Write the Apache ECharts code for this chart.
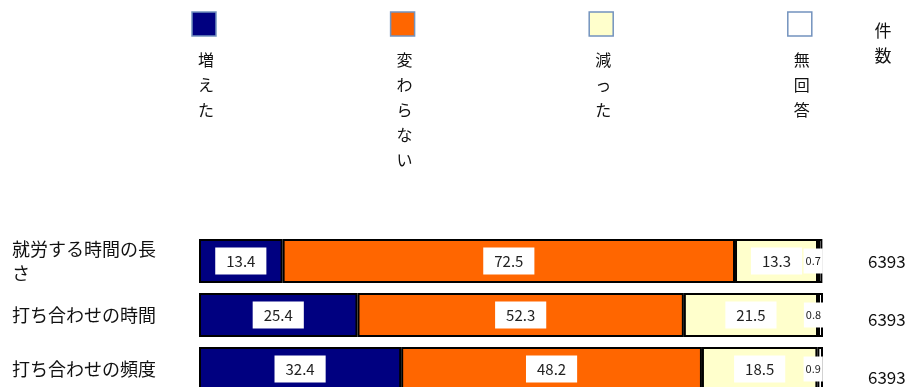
<!DOCTYPE html>
<html>
<head>
<meta charset="utf-8">
<script src="https://cdn.jsdelivr.net/npm/echarts@6/dist/echarts.min.js"></script>
<style>
  html, body { margin: 0; padding: 0; background: #fff; }
  #chart { width: 906px; height: 387px; }
</style>
</head>
<body>
<div id="chart"></div>
<script>
// Survey items (rows, top to bottom)
const categories = ['就労する時間の長さ', '打ち合わせの時間', '打ち合わせの頻度'];
// Answer groups, in stacking order
const seriesNames = ['増えた', '変わらない', '減った', '無回答'];
const seriesColors = ['#000080', '#FF6600', '#FFFFCC', '#FFFFFF'];
// Shares in percent per row
const increased = [13.4, 25.4, 32.4];
const unchanged = [72.5, 52.3, 48.2];
const decreased = [13.3, 21.5, 18.5];
const noAnswer = [0.7, 0.8, 0.9];
// Number of respondents per row
const counts = [6393, 6393, 6393];
const countHeader = '件数';

const FONT = '"Noto Sans CJK JP", "Noto Sans", sans-serif';
const values = [increased, unchanged, decreased, noAnswer];

const chart = echarts.init(document.getElementById('chart'), null, { renderer: 'canvas' });

const series = seriesNames.map((name, i) => {
  const small = i === 3;
  return {
    name: name,
    type: 'bar',
    stack: 'total',
    barWidth: 44,
    data: values[i],
    itemStyle: { color: seriesColors[i], borderColor: '#000', borderWidth: 2 },
    label: {
      show: true,
      position: 'inside',
      formatter: p => p.value.toFixed(1),
      backgroundColor: '#fff',
      color: '#222',
      fontFamily: FONT,
      fontSize: small ? 11 : 15,
      padding: small ? [7, 2] : [6, 11],
      offset: small ? [-7, 0] : [0, 0]
    },
    emphasis: { disabled: true },
    animation: false
  };
});

// Legend: swatch with the label written vertically beneath it
const legendGraphics = [];
seriesNames.forEach((name, i) => {
  const cx = 204 + i * 198.6;
  legendGraphics.push({
    type: 'rect',
    shape: { x: cx - 12, y: 12, width: 24, height: 24 },
    style: { fill: seriesColors[i], stroke: '#7393BE', lineWidth: 1.5 }
  });
  legendGraphics.push({
    type: 'text',
    x: cx + 2,
    y: 47,
    style: {
      text: name.split('').join('\n'),
      font: '16px ' + FONT,
      fill: '#111',
      align: 'center',
      verticalAlign: 'top',
      lineHeight: 25
    }
  });
});
legendGraphics.push({
  type: 'text',
  x: 883,
  y: 18,
  style: {
    text: countHeader.split('').join('\n'),
    font: '17px ' + FONT,
    fill: '#111',
    align: 'center',
    verticalAlign: 'top',
    lineHeight: 25
  }
});

const option = {
  animation: false,
  // the last row runs past the bottom edge of the canvas
  grid: { left: 199, right: 83, top: 234, bottom: -9, outerBoundsMode: 'none', containLabel: false },
  xAxis: { type: 'value', min: 0, max: 100, show: false },
  yAxis: [
    {
      type: 'category',
      inverse: true,
      data: categories,
      axisLine: { show: false },
      axisTick: { show: false },
      axisLabel: {
        align: 'left',
        margin: 187,
        width: 160,
        overflow: 'break',
        fontFamily: FONT,
        fontSize: 18,
        lineHeight: 24,
        color: '#111'
      }
    },
    {
      type: 'category',
      inverse: true,
      position: 'right',
      data: counts,
      axisLine: { show: false },
      axisTick: { show: false },
      axisLabel: {
        align: 'left',
        margin: 45,
        color: '#111',
        formatter: (v, idx) => '{r' + idx + '|' + v + '}',
        rich: {
          r0: { fontFamily: FONT, fontSize: 17, padding: [2, 0, 0, 0] },
          r1: { fontFamily: FONT, fontSize: 17, padding: [10, 0, 0, 0] },
          r2: { fontFamily: FONT, fontSize: 17, padding: [18, 0, 0, 0] }
        }
      }
    }
  ],
  graphic: legendGraphics,
  series: series
};

chart.setOption(option);
</script>
</body>
</html>
